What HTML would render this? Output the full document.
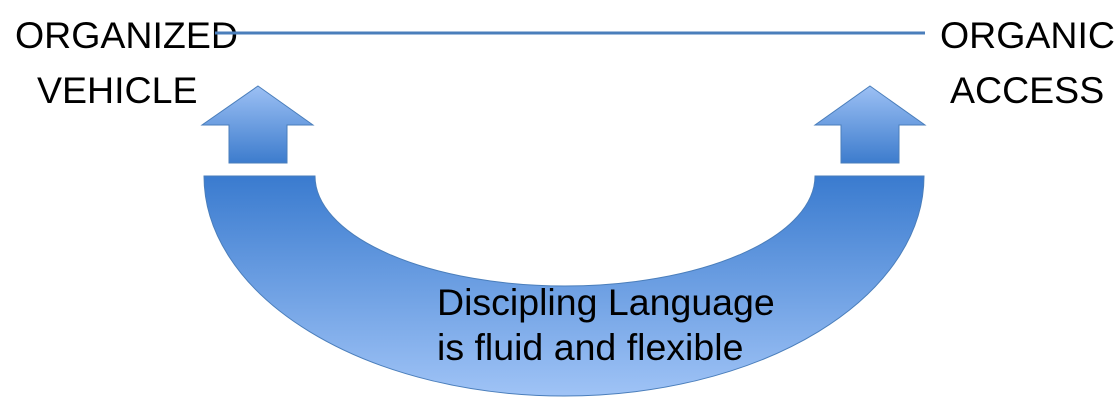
<!DOCTYPE html>
<html><head><style>
body{margin:0;width:1116px;height:406px;background:#fff;overflow:hidden;position:relative;font-family:"Liberation Sans",sans-serif}
.t{position:absolute;font-size:37.5px;color:#000;line-height:1;white-space:nowrap}
</style></head><body>
<div class="t" style="left:15px;top:17px">ORGANIZED</div>
<div class="t" style="left:37px;top:72px">VEHICLE</div>
<div class="t" style="left:940px;top:17px">ORGANIC</div>
<div class="t" style="left:950px;top:72px">ACCESS</div>
<svg width="1116" height="406" style="position:absolute;left:0;top:0">
<defs>
<linearGradient id="g" x1="0" y1="0" x2="0" y2="1">
<stop offset="0" stop-color="#3a7bcf"/><stop offset="1" stop-color="#9fc3f6"/></linearGradient>
<linearGradient id="a" x1="0" y1="0" x2="0" y2="1">
<stop offset="0" stop-color="#9cc0f4"/><stop offset="1" stop-color="#3d7ccd"/></linearGradient>
</defs>
<line x1="215" y1="33" x2="925" y2="33" stroke="#4a7ebb" stroke-width="3"/>
<path d="M204,176 L315,176 A250,110 0 0 0 815,176 L924,176 A360,220 0 0 1 204,176 Z" fill="url(#g)" stroke="#4a7ebb" stroke-width="1"/>
<path d="M258,86 L313,125 L287,125 L287,163 L229,163 L229,125 L202,125 Z" fill="url(#a)" stroke="#4a7ebb" stroke-width="1"/>
<path d="M870,86 L925,125 L899,125 L899,163 L841,163 L841,125 L815,125 Z" fill="url(#a)" stroke="#4a7ebb" stroke-width="1"/>
</svg>
<div class="t" style="left:437px;top:284px">Discipling Language</div>
<div class="t" style="left:437px;top:329px">is fluid and flexible</div>
</body></html>
